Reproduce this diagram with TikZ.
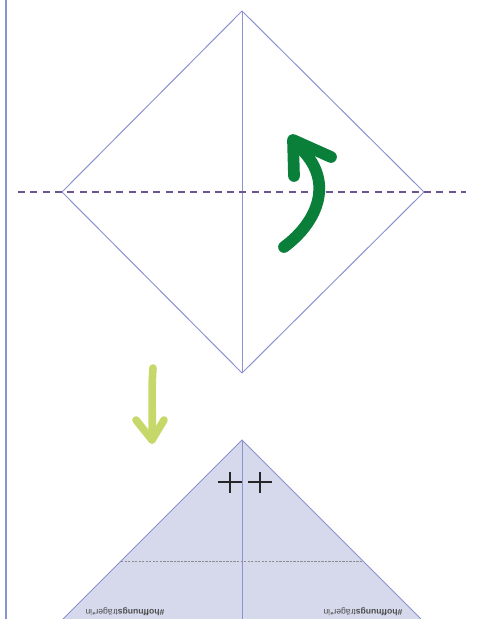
\documentclass[tikz,border=0pt]{standalone}
\usepackage{fontspec}
\setsansfont{Liberation Sans}
\usetikzlibrary{calc}

\definecolor{foldblue}{HTML}{8A93CF}
\definecolor{foldfill}{HTML}{D6D9EC}
\definecolor{foldpurple}{HTML}{6A5590}
\definecolor{turngreen}{HTML}{0A7F3A}
\definecolor{movelime}{HTML}{C7D86A}

\tikzset{
  foldline/.style={draw=foldblue, line width=0.85pt},
  valleyline/.style={draw=foldpurple, line width=1pt, dash pattern=on 6pt off 4.5pt},
  creaseline/.style={draw=gray!90, line width=0.5pt, dash pattern=on 2pt off 1pt},
  turnarrow/.style={draw=turngreen, line width=10pt, line cap=round, line join=round},
  movearrow/.style={draw=movelime, line width=6.5pt, line cap=round, line join=round},
  markcross/.style={draw=black!85, line width=1.1pt},
  tagtext/.style={font=\sffamily\fontsize{7.3}{8}\selectfont, text=black!70, rotate=180, inner sep=0pt}
}

\begin{document}
\begin{tikzpicture}[x=0.03cm, y=-0.03cm]
  \useasboundingbox (0,0) rectangle (478,619);

  % page edge
  \draw[foldblue, line width=1.4pt] (6,0) -- (6,619);

  % square turned on its corner
  \coordinate (top) at (242,11);
  \coordinate (bottom) at (242,373);
  \coordinate (left) at (62,192);
  \coordinate (right) at (424,192);
  \draw[foldline] (top) -- (right) -- (bottom) -- (left) -- cycle;
  \draw[foldline] (top) -- (bottom);
  \coordinate (valleyL) at (18,192);
  \coordinate (valleyR) at (466,192);
  \draw[valleyline] (valleyL) -- (valleyR);

  % turn over
  \coordinate (turnstart) at (284,247);
  \coordinate (turntip) at (293,140);
  \coordinate (turnarmA) at (294,176);
  \coordinate (turnarmB) at (331,157);
  \draw[turnarrow] (turnstart) .. controls (318,222) and (336,180) .. (298,146);
  \draw[turnarrow] (turnarmA) -- (turntip) -- (turnarmB);

  % move down
  \coordinate (movestart) at (153,368);
  \coordinate (movetip) at (152,440);
  \draw[movearrow] (movestart) .. controls (151,395) and (153,415) .. (movetip);
  \draw[movearrow] (136,420) -- (movetip) -- (164,420);

  % folded triangle
  \coordinate (apex) at (242,440);
  \coordinate (baseL) at (63,619);
  \coordinate (baseR) at (421,619);
  \fill[foldfill] (apex) -- (baseR) -- (baseL) -- cycle;
  \draw[foldline] (baseL) -- (apex) -- (baseR);
  \draw[foldline] (apex) -- (242,619);
  \coordinate (creaseL) at (121,561);
  \coordinate (creaseR) at (363,561);
  \draw[creaseline] (creaseL) -- (creaseR);

  % cross marks
  \foreach \cx in {230,260} {
    \draw[markcross] (\cx-12,482) -- (\cx+12,482);
    \draw[markcross] (\cx,472) -- (\cx,493);
  }

  % labels (upside down)
  \node[tagtext] (tagL) at (125,612) {\textbf{\#hoffnungs}träger*in};
  \node[tagtext] (tagR) at (363,612) {\textbf{\#hoffnungs}träger*in};
\end{tikzpicture}
\end{document}
